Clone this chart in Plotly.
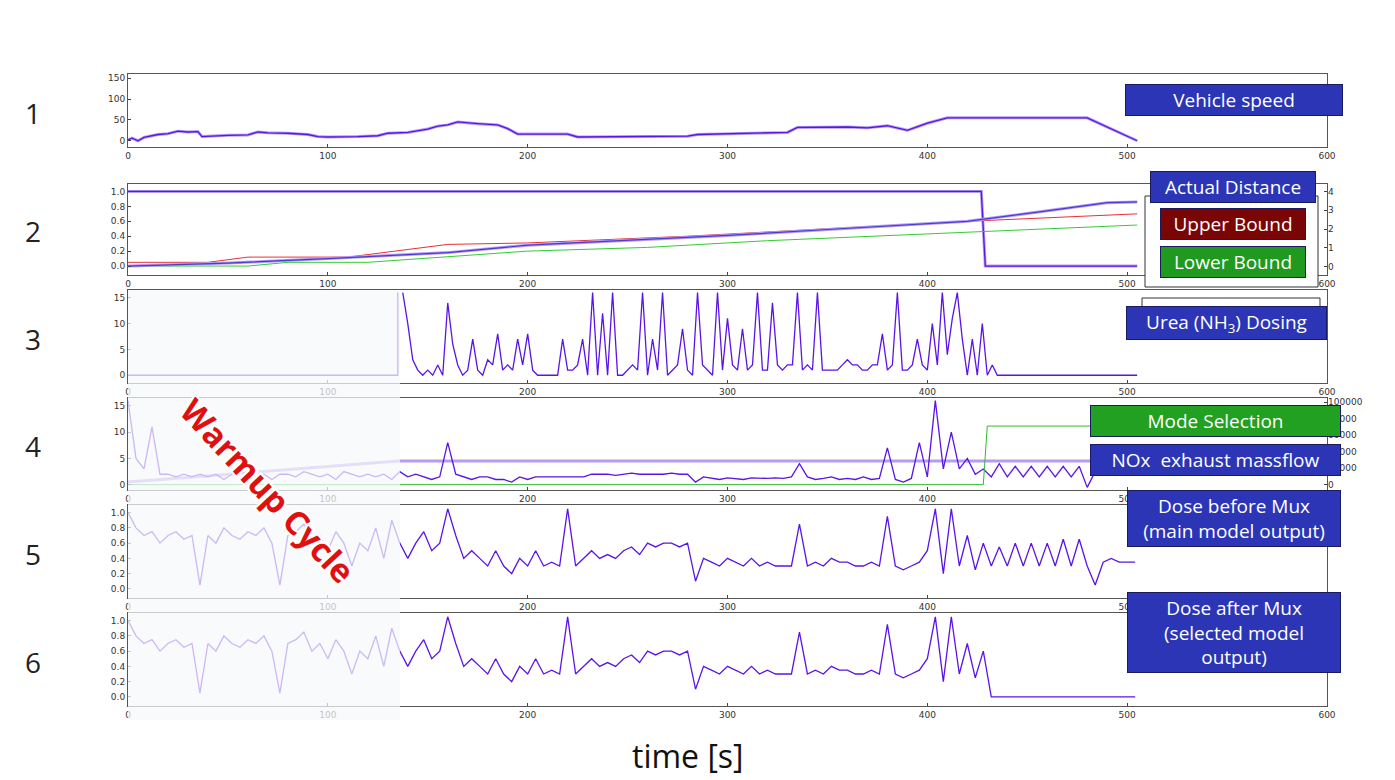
import numpy as np
from plotly import graph_objects as go

# page is drawn with an 8 px body margin
OFF = 8
W, H = 1395 - OFF, 780 - OFF

# panel 1 - vehicle speed
speed_t = [0, 2, 5, 8, 15, 20, 25, 30, 35, 37, 50, 60, 65, 70, 80, 90, 95, 100, 115, 125, 130, 140,
           150, 155, 160, 165, 175, 185, 190, 195, 220, 225, 280, 285, 330, 335, 360, 370, 380,
           385, 390, 400, 410, 480, 505]
speed_v = [2, 6, 0, 8, 15, 17, 23, 21, 22, 10, 13, 14, 21, 19, 18, 15, 10, 9, 10, 12, 18, 20,
           28, 35, 38, 45, 41, 38, 29, 16, 16, 9, 11, 15, 20, 32, 33, 31, 36, 30, 25, 42, 55, 55, 0]

# panel 2 - distance and bounds
mode_t = [0, 427, 429, 505]
mode_v = [1.0, 1.0, 0.0, 0.0]
dist_t = [0, 50, 100, 160, 200, 250, 300, 350, 420, 460, 490, 505]
dist_v = [0, 0.04, 0.1, 0.18, 0.28, 0.34, 0.41, 0.49, 0.6, 0.74, 0.85, 0.86]
upper_t = [0, 40, 60, 110, 160, 200, 280, 350, 420, 505]
upper_v = [0.05, 0.05, 0.12, 0.12, 0.29, 0.31, 0.4, 0.5, 0.6, 0.7]
lower_t = [0, 60, 80, 120, 200, 260, 320, 420, 505]
lower_v = [0, 0, 0.05, 0.05, 0.2, 0.25, 0.34, 0.45, 0.55]

# panel 3 - urea dosing (2.5 s steps from 137.5 s)
urea_warm_t = [0, 135, 135]
urea_warm_v = [0, 0, 16]
urea_v = [16, 10, 3, 1, 0, 1, 0, 2, 0, 14,
          6, 2, 0, 1, 7, 1, 0, 3, 2, 8,
          1, 2, 1, 7, 2, 8, 1, 0, 0, 0,
          0, 0, 7, 1, 1, 2, 7, 0, 16, 0,
          12, 0, 16, 0, 0, 1, 2, 1, 16, 0,
          7, 1, 16, 0, 1, 2, 9, 1, 0, 16,
          2, 1, 0, 16, 1, 11, 2, 1, 9, 1,
          2, 16, 1, 1, 14, 2, 1, 2, 2, 16,
          1, 2, 1, 16, 1, 1, 1, 1, 2, 3,
          2, 2, 1, 1, 2, 2, 8, 1, 2, 16,
          1, 1, 2, 7, 2, 1, 10, 2, 16, 4,
          11, 16, 7, 0, 7, 0, 10, 0, 2, 0]

# panel 4 - NOx massflow (4 s steps), reference level, mode selection
nox_v = [16, 5, 3, 11, 2, 2, 1.5, 2, 1.5, 2,
         1.5, 2, 1, 2, 2.5, 2, 1.5, 2, 1, 2,
         2, 1.5, 2.5, 2, 1.5, 2, 1, 2.5, 2, 1.5,
         2, 1.5, 2, 1, 2.5, 1.5, 2, 1.5, 1, 1.5,
         8, 2, 1.5, 1, 1.5, 1.5, 1, 1, 0.5, 1.5,
         1, 1.5, 1.5, 1.5, 1.5, 1.5, 1.5, 1.5, 2, 2,
         2, 1.8, 2, 2.2, 2, 2, 2, 2, 2.2, 2,
         2, 0.5, 1.5, 1.2, 1, 1.3, 1.2, 1, 1.3, 1.2,
         1.2, 1.3, 1.2, 1.5, 4, 1.5, 1, 1.2, 1.5, 1,
         1.2, 1, 1.5, 1, 1.2, 7, 1, 0.5, 1.2, 8,
         1.5, 16, 3, 10, 3, 5, 2, 3, 1.5, 4,
         1.5, 3.5, 1.5, 3.5, 1.5, 3.5, 1.5, 3.5, 1.5, 3.5,
         -0.5, 2.5, 2.5, 2.5, 2.5, 2.5, 2.5]
ref_t = [0, 135, 505]
ref_v = [0.5, 4.5, 4.5]
sel_t = [0, 428, 430, 505]
sel_v = [0, 0, 71000, 71000]

# panel 5 / 6 - dose before / after mux (4 s steps)
dose_before = [1.0, 0.8, 0.7, 0.75, 0.6, 0.7, 0.75, 0.65, 0.7, 0.05,
               0.7, 0.6, 0.8, 0.7, 0.65, 0.75, 0.7, 0.8, 0.6, 0.05,
               0.7, 0.75, 0.85, 0.6, 0.7, 0.5, 0.75, 0.6, 0.3, 0.6,
               0.5, 0.8, 0.4, 0.9, 0.6, 0.4, 0.6, 0.75, 0.5, 0.6,
               1.05, 0.7, 0.4, 0.5, 0.4, 0.3, 0.5, 0.3, 0.2, 0.4,
               0.3, 0.5, 0.3, 0.35, 0.3, 1.05, 0.3, 0.4, 0.5, 0.4,
               0.45, 0.4, 0.5, 0.55, 0.45, 0.6, 0.55, 0.6, 0.6, 0.55,
               0.6, 0.1, 0.4, 0.35, 0.3, 0.4, 0.35, 0.3, 0.4, 0.3,
               0.35, 0.3, 0.3, 0.3, 0.85, 0.3, 0.35, 0.3, 0.4, 0.35,
               0.35, 0.3, 0.3, 0.35, 0.3, 0.95, 0.3, 0.25, 0.3, 0.35,
               0.5, 1.05, 0.2, 1.05, 0.3, 0.7, 0.25, 0.6, 0.3, 0.55,
               0.3, 0.6, 0.3, 0.6, 0.3, 0.6, 0.3, 0.65, 0.3, 0.65,
               0.3, 0.05, 0.35, 0.4, 0.35, 0.35, 0.35]
dose_after = dose_before[:108] + [0.0] * 19

t4 = [4 * i for i in range(len(dose_before))]
t_urea = [137.5 + 2.5 * i for i in range(len(urea_v))] + [505]
urea_all = urea_v + [0]

PURPLE = "#5b14e6"
LIGHT = "#b59cf2"

# screen px -> paper helpers
def px(x):
    return (x - OFF) / W

def py(y):
    return 1 - (y - OFF) / H

rows = [(74, 147), (184, 275), (290, 383), (398, 490), (505, 598), (613, 706)]
yranges = [[-15, 160], [-0.12, 1.1], [-1.5, 16.5], [-1, 16.5], [-0.12, 1.1], [-0.12, 1.1]]
ytick = [[0, 50, 100, 150], [0, 0.2, 0.4, 0.6, 0.8, 1.0], [0, 5, 10, 15], [0, 5, 10, 15],
         [0, 0.2, 0.4, 0.6, 0.8, 1.0], [0, 0.2, 0.4, 0.6, 0.8, 1.0]]

fig = go.Figure()

def line(x, y, k, color=PURPLE, width=1.3, yax=None):
    fig.add_trace(go.Scatter(x=x, y=y, mode="lines", line=dict(color=color, width=width),
                             xaxis=f"x{k if k > 1 else ''}",
                             yaxis=yax or f"y{k if k > 1 else ''}", showlegend=False))

line(speed_t, speed_v, 1, LIGHT, 3)
line(speed_t, speed_v, 1)
line(mode_t, mode_v, 2, LIGHT, 3)
line(mode_t, mode_v, 2)
line(upper_t, upper_v, 2, "#e8303a", 1)
line(lower_t, lower_v, 2, "#33cc33", 1)
line(dist_t, dist_v, 2, LIGHT, 3)
line(dist_t, dist_v, 2, "#4a3ad8", 1.2)
line([0, 505], [0, 4], 2, "rgba(0,0,0,0)", 1, "y7")
line(urea_warm_t, urea_warm_v, 3)
line(t_urea, urea_all, 3)
line(sel_t, sel_v, 4, "#33bb33", 1, "y8")
line(ref_t, ref_v, 4, LIGHT, 3)
line(t4, nox_v, 4)
line(t4, dose_before, 5)
line(t4, dose_after, 6)

tickfont = dict(family="DejaVu Sans", size=9, color="#333")
layout = dict(width=W, height=H, margin=dict(l=0, r=0, t=0, b=0, autoexpand=False),
              plot_bgcolor="white", paper_bgcolor="white")
for i, (top, bot) in enumerate(rows):
    k = i + 1
    s = "" if k == 1 else str(k)
    layout[f"xaxis{s}"] = dict(domain=[px(128), px(1327)], range=[0, 600], anchor=f"y{s}",
                               tickvals=[0, 100, 200, 300, 400, 500, 600], ticks="inside",
                               ticklen=3, showgrid=False, zeroline=False, showline=True,
                               linecolor="#555", mirror=True, tickfont=tickfont, automargin=False)
    layout[f"yaxis{s}"] = dict(domain=[py(bot), py(top)], range=yranges[i], anchor=f"x{s}",
                               tickvals=ytick[i], ticks="inside", ticklen=3, showgrid=False,
                               zeroline=False, showline=True, linecolor="#555", mirror=True,
                               tickfont=tickfont, automargin=False,
                               tickformat=".1f" if i in (1, 4, 5) else None)
layout["yaxis7"] = dict(overlaying="y2", side="right", anchor="x2", range=[-0.45, 4.4],
                        tickvals=[0, 1, 2, 3, 4], showgrid=False, zeroline=False, automargin=False,
                        tickfont=tickfont, ticks="inside", ticklen=3)
layout["yaxis8"] = dict(overlaying="y4", side="right", anchor="x4", range=[-6500, 105000],
                        tickvals=[0, 20000, 40000, 60000, 80000, 100000], showgrid=False,
                        zeroline=False, tickfont=tickfont, ticks="inside", ticklen=3,
                        automargin=False, tickformat="d")
fig.update_layout(**layout)

shapes = [
    # legend boxes behind the labels
    dict(type="rect", xref="paper", yref="paper", x0=px(1145), x1=px(1318), y0=py(287), y1=py(196),
         line=dict(color="#333", width=1), fillcolor="white"),
    dict(type="rect", xref="paper", yref="paper", x0=px(1142), x1=px(1320), y0=py(330), y1=py(298),
         line=dict(color="#333", width=1), fillcolor="white"),
    # faded warmup region
    dict(type="rect", xref="paper", yref="paper", x0=px(128), x1=px(400), y0=py(720), y1=py(290),
         line=dict(width=0), fillcolor="rgba(246,248,249,0.72)", layer="above"),
]
fig.update_layout(shapes=shapes)

ann = []
for i, (top, bot) in enumerate(rows):
    ann.append(dict(x=px(33), y=py((top + bot) / 2 + 2), xref="paper", yref="paper", text=str(i + 1),
                    showarrow=False, xanchor="center", yanchor="middle",
                    font=dict(family="Open Sans", size=28, color="#222")))

def box(text, cx, cy, w, color, size=19):
    ann.append(dict(x=px(cx), y=py(cy), xref="paper", yref="paper", text=text, showarrow=False,
                    xanchor="center", yanchor="middle",
                    width=w, bgcolor=color, bordercolor="#1a1a60", borderwidth=1, borderpad=2,
                    font=dict(family="Open Sans", size=size, color="white")))

BLUE = "#2b35b5"
box("Vehicle speed", 1234, 100, 212, BLUE)
box("Actual Distance", 1233, 187, 160, BLUE)
box("Upper Bound", 1233, 224, 140, "#7a0505")
box("Lower Bound", 1233, 262, 140, "#1f9a1f")
box("Urea (NH<sub>3</sub>) Dosing", 1226, 323, 195, BLUE)
box("Mode Selection", 1215, 421, 245, "#22a022")
box("NOx  exhaust massflow", 1215, 460, 245, BLUE)
box("Dose before Mux<br>(main model output)", 1234, 518, 208, BLUE)
box("Dose after Mux<br>(selected model<br>output)", 1234, 632, 208, BLUE)

ann.append(dict(x=px(688), y=py(755), xref="paper", yref="paper", text="time [s]", showarrow=False,
                xanchor="center", yanchor="middle",
                font=dict(family="Open Sans", size=32, color="#111")))
ann.append(dict(x=px(268), y=py(490), xref="paper", yref="paper", text="<b>Warmup Cycle</b>",
                showarrow=False, textangle=47, xanchor="center", yanchor="middle",
                font=dict(family="Open Sans", size=33, color="#e01010",
                          shadow="2px 2px 1px white, -2px -2px 1px white, 2px -2px 1px white, -2px 2px 1px white")))
fig.update_layout(annotations=ann)

fig.write_html("out.html")
